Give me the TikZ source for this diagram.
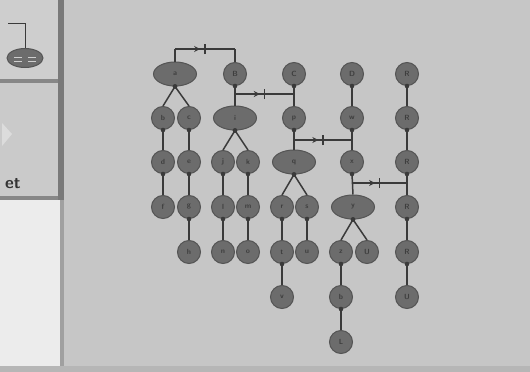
\documentclass[tikz,border=0pt]{standalone}
\usetikzlibrary{shapes.geometric,arrows.meta,decorations.markings}
\definecolor{canvas}{RGB}{198,198,198}
\definecolor{paneltop}{RGB}{206,206,206}
\definecolor{panelmid}{RGB}{202,202,202}
\definecolor{panellow}{RGB}{236,236,236}
\definecolor{divider}{RGB}{135,135,135}
\definecolor{nodefill}{RGB}{108,108,108}
\definecolor{nodeline}{RGB}{84,84,84}
\definecolor{wire}{RGB}{58,58,58}
\definecolor{glyph}{RGB}{62,62,62}
\tikzset{
  vnode/.style={circle,fill=nodefill,draw=nodeline,line width=1pt,minimum size=23pt,inner sep=0pt,
    font=\sffamily\bfseries\fontsize{7.5}{7.5}\selectfont,text=glyph},
  enode/.style={ellipse,fill=nodefill,draw=nodeline,line width=1pt,minimum width=43pt,minimum height=24pt,inner sep=0pt,
    font=\sffamily\bfseries\fontsize{7.5}{7.5}\selectfont,text=glyph},
  edge/.style={draw=wire,line width=1.5pt},
  tagged/.style={edge,postaction={decorate},decoration={markings,
    mark=at position 0.42 with {\arrow[wire]{Stealth[length=6pt,width=6pt]}},
    mark=at position 0.50 with {\draw[wire,line width=1.3pt] (0,-5pt) -- (0,5pt);}}},
  knob/.style={fill=wire}
}
\newcommand{\joinnodes}[2]{%
  \draw[edge] (#1.south) -- (#2.north);
  \fill[knob] (#1.south) circle (2.3pt);}
\begin{document}
\begin{tikzpicture}[x=1pt,y=-1pt]
\useasboundingbox (0,0) rectangle (530,372);
\fill[canvas] (0,0) rectangle (530,372);

% side panel
\fill[paneltop] (0,0) rectangle (58,79);
\fill[panelmid] (0,83) rectangle (58,196);
\fill[panellow] (0,200) rectangle (60,366);
\fill[divider] (0,79) rectangle (60,83);
\fill[divider] (0,196) rectangle (60,200);
\fill[divider!90!black] (58,0) rectangle (64,200);
\fill[divider!60!canvas] (60,200) rectangle (64,366);
\fill[canvas!92!black] (0,366) rectangle (530,372);

% small preview inside the top panel
\node[enode,minimum width=36pt,minimum height=19pt] (pv) at (25,58) {};
\coordinate (pvl) at (8,23);
\draw[wire,line width=1pt] (pvl) -| (pv.north);
\draw[canvas!85!white,line width=1pt] (14,57) -- (22,57) (28,57) -- (36,57);
\draw[canvas!85!white,line width=1pt] (14,61) -- (22,61) (28,61) -- (36,61);
\fill[white,opacity=0.35] (2,123) -- (12,134) -- (2,146) -- cycle;
\node[font=\sffamily\bfseries\fontsize{17}{17}\selectfont,text=black!80,anchor=west,inner sep=0pt] (lbl) at (5,184) {et};

% first group
\node[enode] (a0) at (175,74) {a};
\node[vnode] (a1) at (163,118) {b};
\node[vnode] (a2) at (189,118) {c};
\node[vnode] (a3) at (163,162) {d};
\node[vnode] (a4) at (189,162) {e};
\node[vnode] (a5) at (163,207) {f};
\node[vnode] (a6) at (189,207) {g};
\node[vnode] (a7) at (189,252) {h};

% second group
\node[vnode] (b0) at (235,74) {B};
\node[enode] (b1) at (235,118) {i};
\node[vnode] (b2) at (223,162) {j};
\node[vnode] (b3) at (248,162) {k};
\node[vnode] (b4) at (223,207) {l};
\node[vnode] (b5) at (248,207) {m};
\node[vnode] (b6) at (223,252) {n};
\node[vnode] (b7) at (248,252) {o};

% third group
\node[vnode] (c0) at (294,74) {C};
\node[vnode] (c1) at (294,118) {p};
\node[enode] (c2) at (294,162) {q};
\node[vnode] (c3) at (282,207) {r};
\node[vnode] (c4) at (307,207) {s};
\node[vnode] (c5) at (282,252) {t};
\node[vnode] (c6) at (307,252) {u};
\node[vnode] (c7) at (282,297) {v};

% fourth group
\node[vnode] (d0) at (352,74) {D};
\node[vnode] (d1) at (352,118) {w};
\node[vnode] (d2) at (352,162) {x};
\node[enode] (d3) at (353,207) {y};
\node[vnode] (d4) at (341,252) {z};
\node[vnode] (d5) at (367,252) {U};
\node[vnode] (d6) at (341,297) {b};
\node[vnode] (d7) at (341,342) {L};

% fifth group
\node[vnode] (e0) at (407,74) {R};
\node[vnode] (e1) at (407,118) {R};
\node[vnode] (e2) at (407,162) {R};
\node[vnode] (e3) at (407,207) {R};
\node[vnode] (e4) at (407,252) {R};
\node[vnode] (e5) at (407,297) {U};

% tree edges
\foreach \p/\q in {a0/a1,a0/a2,a1/a3,a2/a4,a3/a5,a4/a6,a6/a7,
                   b0/b1,b1/b2,b1/b3,b2/b4,b3/b5,b4/b6,b5/b7,
                   c0/c1,c1/c2,c2/c3,c2/c4,c3/c5,c4/c6,c5/c7,
                   d0/d1,d1/d2,d2/d3,d3/d4,d3/d5,d4/d6,d6/d7,
                   e0/e1,e1/e2,e2/e3,e3/e4,e4/e5}
  {\joinnodes{\p}{\q}}

% tagged links between groups
\coordinate (h1) at (a0.north |- 0,49);
\coordinate (h1e) at (h1 -| b0.north);
\draw[edge] (a0.north) -- (h1);
\draw[tagged] (h1) -- (h1e);
\draw[edge] (h1e) -- (b0.north);

\coordinate (h2) at (b0.south |- 0,94);
\coordinate (h2e) at (h2 -| c0.south);
\draw[tagged] (h2) -- (h2e);

\coordinate (h3) at (c1.south |- 0,140);
\coordinate (h3e) at (h3 -| d1.south);
\draw[tagged] (h3) -- (h3e);

\coordinate (h4) at (d2.south |- 0,183);
\coordinate (h4e) at (h4 -| e2.south);
\draw[tagged] (h4) -- (h4e);
\end{tikzpicture}
\end{document}
